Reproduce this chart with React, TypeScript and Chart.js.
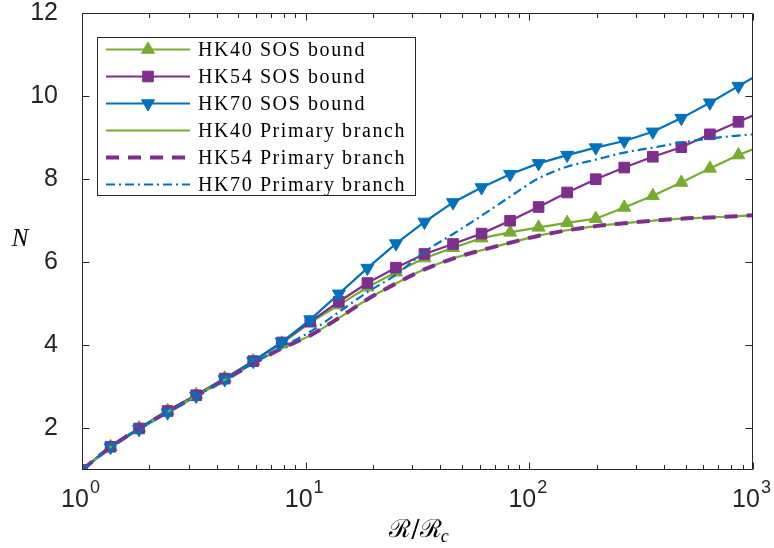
import React, { useEffect, useRef } from 'react';
import { Chart, registerables } from 'chart.js';

Chart.register(...registerables);

// ---------- data ----------
const rValues = [1, 1.342, 1.8, 2.414, 3.239, 4.345, 5.829, 7.82, 10.49, 14.07, 18.88, 25.33, 33.98, 45.59, 61.16, 82.04, 110.0, 147.6, 198.1, 265.7, 356.5, 478.2, 641.6, 860.6, 1000];

const hk40Sos = [1.0, 1.56, 2.01, 2.43, 2.81, 3.21, 3.62, 4.05, 4.55, 4.97, 5.40, 5.76, 6.10, 6.35, 6.58, 6.72, 6.84, 6.95, 7.05, 7.32, 7.60, 7.92, 8.26, 8.58, 8.72];
const hk54Sos = [1.0, 1.56, 2.0, 2.42, 2.8, 3.2, 3.62, 4.07, 4.57, 5.05, 5.50, 5.87, 6.20, 6.44, 6.69, 7.00, 7.33, 7.68, 8.00, 8.28, 8.54, 8.77, 9.08, 9.38, 9.53];
const hk70Sos = [1.0, 1.55, 1.98, 2.38, 2.78, 3.18, 3.62, 4.08, 4.62, 5.24, 5.86, 6.45, 6.97, 7.44, 7.80, 8.12, 8.38, 8.58, 8.76, 8.92, 9.14, 9.47, 9.84, 10.24, 10.44];

const hk40Primary = [1.0, 1.55, 2.0, 2.4, 2.78, 3.17, 3.56, 3.93, 4.24, 4.66, 5.11, 5.49, 5.83, 6.09, 6.29, 6.47, 6.64, 6.77, 6.87, 6.94, 7.00, 7.05, 7.08, 7.11, 7.13];
const hk54Primary = [1.0, 1.55, 2.0, 2.4, 2.78, 3.17, 3.56, 3.93, 4.24, 4.66, 5.11, 5.49, 5.83, 6.09, 6.29, 6.47, 6.64, 6.77, 6.87, 6.94, 7.00, 7.05, 7.08, 7.11, 7.13];
const hk70Primary = [1.0, 1.55, 2.0, 2.4, 2.78, 3.17, 3.57, 3.96, 4.33, 4.80, 5.28, 5.70, 6.25, 6.68, 7.12, 7.58, 8.02, 8.30, 8.47, 8.64, 8.76, 8.88, 8.98, 9.05, 9.08];

const seriesLabels = [
  'HK40 SOS bound',
  'HK54 SOS bound',
  'HK70 SOS bound',
  'HK40 Primary branch',
  'HK54 Primary branch',
  'HK70 Primary branch',
];

const xTickValues = [1, 10, 100, 1000];
const xTickBase = '10';
const xTickExponents = ['0', '1', '2', '3'];
const xMinorTickValues = [2, 3, 4, 5, 6, 7, 8, 9, 20, 30, 40, 50, 60, 70, 80, 90, 200, 300, 400, 500, 600, 700, 800, 900];
const yTickValues = [2, 4, 6, 8, 10, 12];
const yTickLabels = ['2', '4', '6', '8', '10', '12'];
const xTitleMain = '\u211B/\u211B';
const xTitleSub = 'c';
const yTitle = 'N';

// ---------- style ----------
const GREEN = '#77AC30';
const PURPLE = '#7E2F8E';
const BLUE = '#0072BD';
const AXIS = '#262626';
const W = 774;
const H = 548;
const lastIdx = rValues.length - 1;
const SANS = '"Liberation Sans", Arial, sans-serif';

const toPoints = (ys: number[]) => ys.map((y, i) => ({ x: rValues[i], y }));

function drawMarker(ctx: CanvasRenderingContext2D, style: string, rotation: number, x: number, y: number, r: number, color: string) {
  ctx.save();
  ctx.fillStyle = color;
  ctx.strokeStyle = color;
  ctx.lineWidth = 1;
  ctx.setLineDash([]);
  ctx.beginPath();
  if (style === 'triangle') {
    const s = rotation === 180 ? -1 : 1;
    ctx.moveTo(x, y - s * r);
    ctx.lineTo(x + 0.866 * r, y + s * 0.5 * r);
    ctx.lineTo(x - 0.866 * r, y + s * 0.5 * r);
    ctx.closePath();
  } else if (style === 'rect') {
    const h = Math.SQRT1_2 * r;
    ctx.rect(x - h, y - h, 2 * h, 2 * h);
  }
  ctx.fill();
  ctx.stroke();
  ctx.restore();
}

const decorPlugin = {
  id: 'decor',
  afterDatasetsDraw(chart: any) {
    const { ctx, chartArea: a, scales } = chart;
    const xs = scales.x;
    const ys = scales.y;
    const L = Math.round(a.left) + 0.5;
    const R = Math.round(a.right) - 0.5;
    const T = Math.round(a.top) + 0.5;
    const B = Math.round(a.bottom) - 0.5;
    ctx.save();
    ctx.strokeStyle = AXIS;
    ctx.lineWidth = 1;
    ctx.setLineDash([]);
    ctx.beginPath();
    ctx.rect(L, T, R - L, B - T);
    ctx.stroke();

    const major = 7;
    const minor = 4.5;
    ctx.beginPath();
    xTickValues.forEach((v) => {
      const p = Math.round(xs.getPixelForValue(v)) + 0.5;
      ctx.moveTo(p, B); ctx.lineTo(p, B - major);
      ctx.moveTo(p, T); ctx.lineTo(p, T + major);
    });
    xMinorTickValues.forEach((v) => {
      const p = Math.round(xs.getPixelForValue(v)) + 0.5;
      ctx.moveTo(p, B); ctx.lineTo(p, B - minor);
      ctx.moveTo(p, T); ctx.lineTo(p, T + minor);
    });
    yTickValues.forEach((v) => {
      const p = Math.round(ys.getPixelForValue(v)) + 0.5;
      ctx.moveTo(L, p); ctx.lineTo(L + major, p);
      ctx.moveTo(R, p); ctx.lineTo(R - major, p);
    });
    ctx.stroke();

    // x tick labels: 10 with superscript exponent
    ctx.fillStyle = AXIS;
    ctx.textBaseline = 'alphabetic';
    ctx.textAlign = 'left';
    xTickValues.forEach((v, i) => {
      const p = xs.getPixelForValue(v);
      ctx.font = `25px ${SANS}`;
      const wb = ctx.measureText(xTickBase).width;
      ctx.font = `18px ${SANS}`;
      const we = ctx.measureText(xTickExponents[i]).width;
      const x0 = p - (wb + we) / 2 - 2;
      ctx.font = `25px ${SANS}`;
      ctx.fillText(xTickBase, x0, a.bottom + 37);
      ctx.font = `18px ${SANS}`;
      ctx.fillText(xTickExponents[i], x0 + wb + 1, a.bottom + 23);
    });

    // legend
    const lx = 97.5, ly = 37.5, lw = 318, lh = 158;
    ctx.fillStyle = '#ffffff';
    ctx.fillRect(lx, ly, lw, lh);
    ctx.strokeStyle = AXIS;
    ctx.lineWidth = 1;
    ctx.strokeRect(lx, ly, lw, lh);
    const datasets = chart.data.datasets;
    ctx.font = '20px "Liberation Serif", "Times New Roman", serif';
    (ctx as any).letterSpacing = '1.6px';
    ctx.textBaseline = 'middle';
    ctx.textAlign = 'left';
    datasets.forEach((ds: any, i: number) => {
      const yy = 49.5 + i * 27;
      ctx.save();
      ctx.strokeStyle = ds.borderColor;
      ctx.lineWidth = ds.borderWidth;
      ctx.setLineDash(ds.borderDash || []);
      ctx.beginPath();
      ctx.moveTo(106, yy);
      ctx.lineTo(190, yy);
      ctx.stroke();
      ctx.restore();
      if (ds.legendMarker) {
        drawMarker(ctx, ds.pointStyle, ds.rotation || 0, 148, yy, ds.legendMarker, ds.borderColor);
      }
      ctx.fillStyle = '#000000';
      ctx.fillText(ds.label, 198, yy + 1);
    });
    (ctx as any).letterSpacing = '0px';

    // axis titles
    ctx.fillStyle = '#000000';
    ctx.textBaseline = 'alphabetic';
    ctx.textAlign = 'left';
    const mainFont = '25px "DejaVu Serif", serif';
    const subFont = 'italic 18px "Liberation Serif", serif';
    ctx.font = mainFont;
    const w1 = ctx.measureText(xTitleMain).width;
    ctx.font = subFont;
    const w2 = ctx.measureText(xTitleSub).width;
    const cx = (a.left + a.right) / 2 + 2;
    const x0 = cx - (w1 + w2) / 2;
    ctx.font = mainFont;
    ctx.fillText(xTitleMain, x0, 537);
    ctx.font = subFont;
    ctx.fillText(xTitleSub, x0 + w1 - 1, 542);

    ctx.font = 'italic 25px "Liberation Serif", serif';
    ctx.textAlign = 'center';
    ctx.fillText(yTitle, 20, 246);
    ctx.restore();
  },
};

export default function App() {
  const ref = useRef<HTMLCanvasElement>(null);
  useEffect(() => {
    if (!ref.current) return;
    const chart = new Chart(ref.current, {
      type: 'line',
      data: {
        datasets: [
          {
            label: seriesLabels[0], data: toPoints(hk40Sos), borderColor: GREEN, backgroundColor: GREEN,
            borderWidth: 2.2, pointStyle: 'triangle', rotation: 0,
            pointRadius: (c: any) => (c.dataIndex === lastIdx ? 0 : 7.5),
            pointBorderWidth: 1, pointBackgroundColor: GREEN, pointBorderColor: GREEN, order: 6,
            legendMarker: 7.5,
          } as any,
          {
            label: seriesLabels[1], data: toPoints(hk54Sos), borderColor: PURPLE, backgroundColor: PURPLE,
            borderWidth: 2.2, pointStyle: 'rect',
            pointRadius: (c: any) => (c.dataIndex === lastIdx ? 0 : 7.5),
            pointBorderWidth: 1, pointBackgroundColor: PURPLE, pointBorderColor: PURPLE, order: 5,
            legendMarker: 7.5,
          } as any,
          {
            label: seriesLabels[2], data: toPoints(hk70Sos), borderColor: BLUE, backgroundColor: BLUE,
            borderWidth: 2.2, pointStyle: 'triangle', rotation: 180,
            pointRadius: (c: any) => (c.dataIndex === lastIdx ? 0 : 7.5),
            pointBorderWidth: 1, pointBackgroundColor: BLUE, pointBorderColor: BLUE, order: 4,
            legendMarker: 7.5,
          } as any,
          {
            label: seriesLabels[3], data: toPoints(hk40Primary), borderColor: GREEN, backgroundColor: GREEN,
            borderWidth: 2.2, pointRadius: 0, cubicInterpolationMode: 'monotone', order: 3,
          } as any,
          {
            label: seriesLabels[4], data: toPoints(hk54Primary), borderColor: PURPLE, backgroundColor: PURPLE,
            borderWidth: 4, borderDash: [13, 9], pointRadius: 0, cubicInterpolationMode: 'monotone', order: 2,
          } as any,
          {
            label: seriesLabels[5], data: toPoints(hk70Primary), borderColor: BLUE, backgroundColor: BLUE,
            borderWidth: 2.2, borderDash: [9, 4, 2, 4], pointRadius: 0, cubicInterpolationMode: 'monotone', order: 1,
          } as any,
        ],
      },
      options: {
        responsive: false,
        animation: false,
        devicePixelRatio: 1,
        events: [],
        layout: { padding: { left: 0, top: 13, right: 21, bottom: 0 } },
        plugins: { legend: { display: false }, tooltip: { enabled: false }, title: { display: false } },
        scales: {
          x: {
            type: 'logarithmic', min: 1, max: 1000,
            grid: { display: false, drawTicks: false },
            border: { display: false },
            afterBuildTicks: (s: any) => { s.ticks = xTickValues.map((v) => ({ value: v, major: true })); },
            afterFit: (s: any) => { s.height = 78; s.paddingLeft = 0; s.paddingRight = 0; },
            ticks: { display: false, autoSkip: false, maxRotation: 0, minRotation: 0 },
          },
          y: {
            type: 'linear', min: 1, max: 12,
            grid: { display: false, drawTicks: false },
            border: { display: false },
            afterBuildTicks: (s: any) => { s.ticks = yTickValues.map((v) => ({ value: v })); },
            afterFit: (s: any) => { s.width = 82; s.paddingTop = 0; s.paddingBottom = 0; },
            ticks: {
              padding: 24, color: AXIS,
              font: { family: SANS, size: 25, lineHeight: 1 },
              callback: (v: any) => { const i = yTickValues.indexOf(Number(v)); return i >= 0 ? yTickLabels[i] : ''; },
            },
          },
        },
      } as any,
      plugins: [decorPlugin],
    });
    return () => chart.destroy();
  }, []);
  return (
    <div style={{ position: 'absolute', left: 0, top: 0, width: W, height: H, background: '#fff' }}>
      <canvas ref={ref} width={W} height={H} style={{ display: 'block' }} />
    </div>
  );
}
